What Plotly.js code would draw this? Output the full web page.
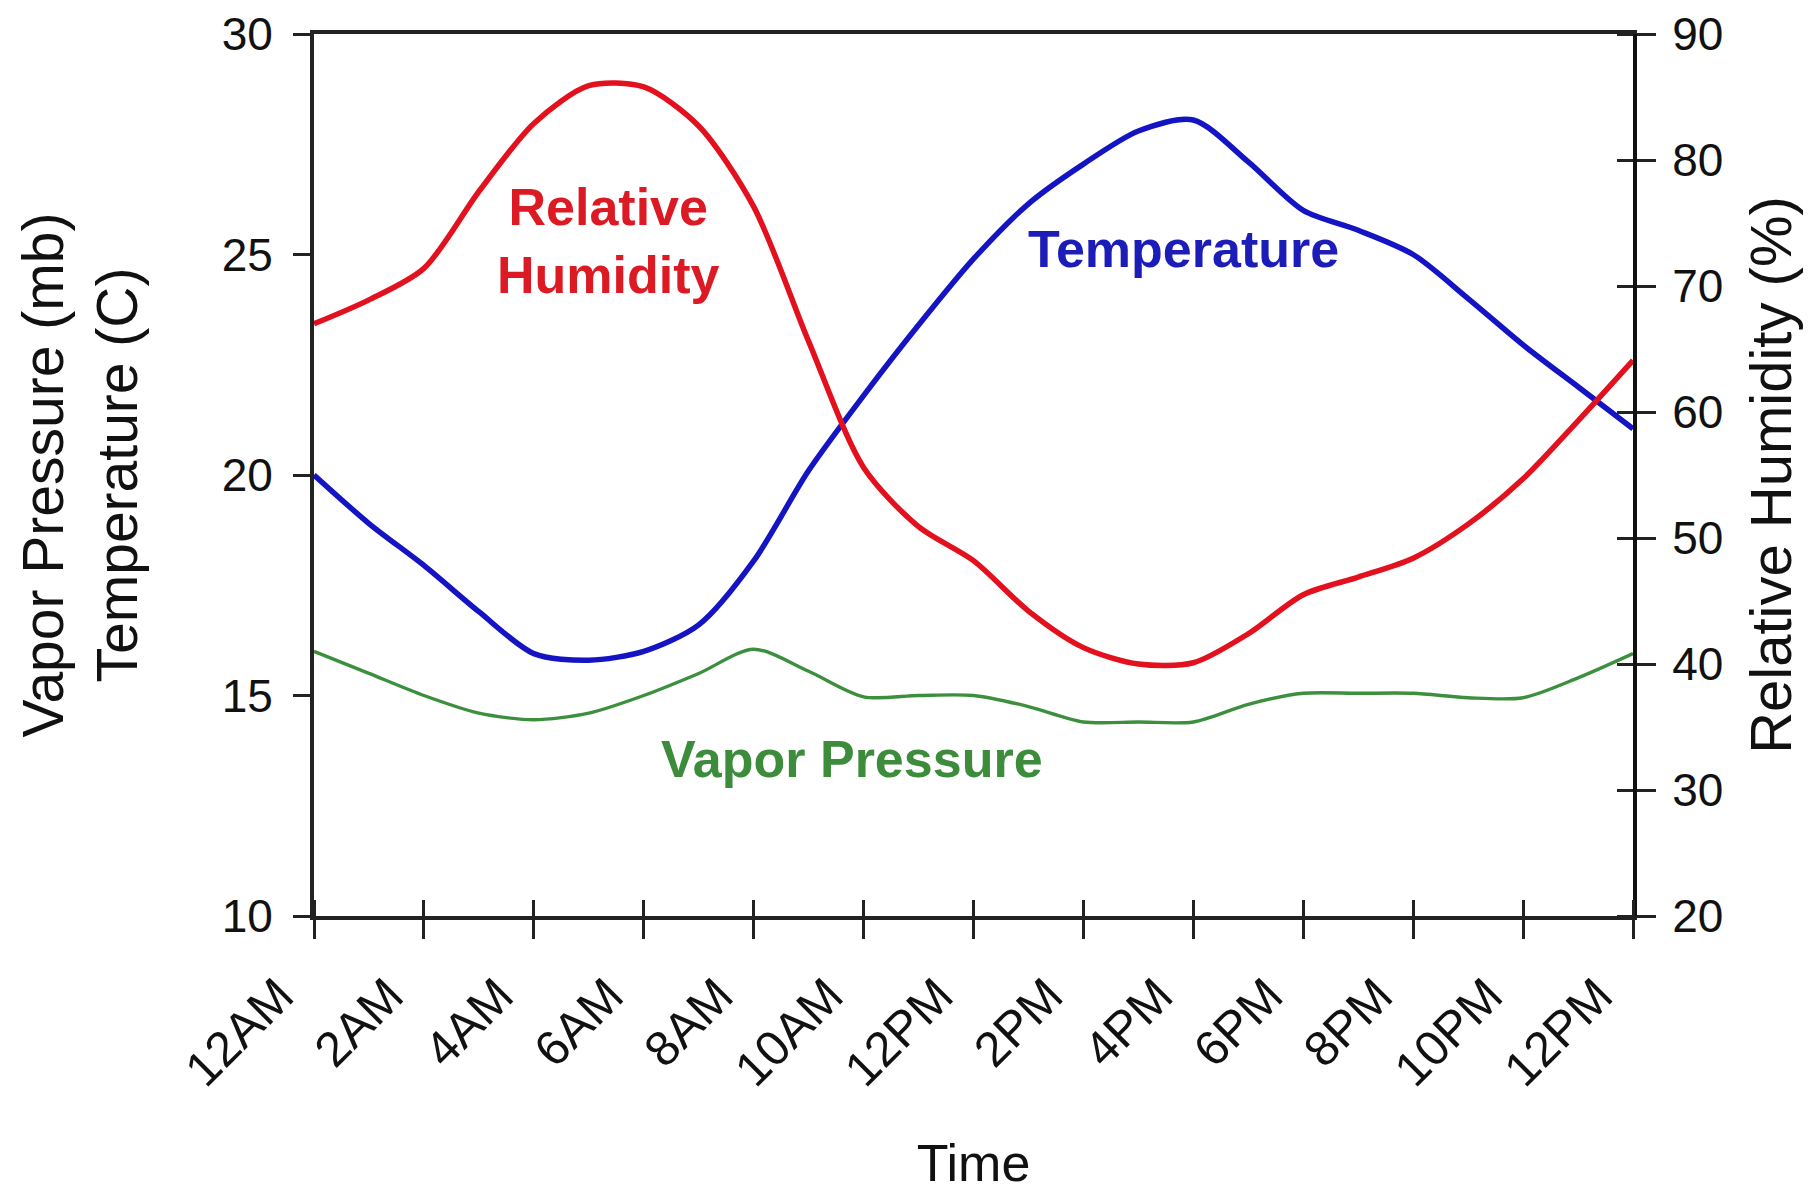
<!DOCTYPE html>
<html>
<head>
<meta charset="utf-8">
<script src="https://cdn.plot.ly/plotly-3.0.1.min.js"></script>
<style>
  html, body { margin: 0; padding: 0; background: #ffffff; }
  #chart { width: 1818px; height: 1192px; }
</style>
</head>
<body>
<div id="chart"></div>
<script>
// ---- data ----
const hours = [0, 1, 2, 3, 4, 5, 6, 7, 8, 9, 10, 11, 12, 13, 14, 15, 16, 17, 18, 19, 20, 21, 22, 23, 24];
const tickHours = [0, 2, 4, 6, 8, 10, 12, 14, 16, 18, 20, 22, 24];
const tickLabels = ["12AM", "2AM", "4AM", "6AM", "8AM", "10AM", "12PM", "2PM", "4PM", "6PM", "8PM", "10PM", "12PM"];
const leftTicks = [10, 15, 20, 25, 30];
const rightTicks = [20, 30, 40, 50, 60, 70, 80, 90];

const temperature = [20.0, 18.9, 17.95, 16.9, 15.95, 15.8, 16.0, 16.6, 18.05, 20.1, 21.8, 23.4, 24.9, 26.15, 27.05, 27.8, 28.05, 27.1, 26.0, 25.55, 25.0, 24.0, 22.95, 22.0, 21.05];
const vaporPressure = [16.0, 15.5, 15.0, 14.6, 14.45, 14.6, 15.0, 15.5, 16.05, 15.55, 14.97, 15.0, 15.0, 14.75, 14.4, 14.4, 14.4, 14.8, 15.05, 15.05, 15.05, 14.95, 14.95, 15.4, 15.95];
const relativeHumidity = [67.0, 68.9, 71.4, 77.5, 82.9, 85.9, 85.8, 82.7, 76.3, 65.6, 55.6, 50.9, 48.2, 44.2, 41.3, 40.0, 40.1, 42.4, 45.5, 46.9, 48.4, 51.1, 54.7, 59.3, 64.1];

const seriesNames = ["Temperature", "Vapor Pressure", "Relative Humidity"];

// ---- styling ----
const FONT = '"Liberation Sans", Arial, Helvetica, sans-serif';
const RED = '#e3101d';
const BLUE = '#1414c4';
const GREEN = '#3c8f3c';
const AXIS = '#222222';

// inner half of the crossing tick marks (drawn as minor ticks a hair off the major ones)
const EPS = 1e-6;
const innerX = tickHours.map(v => v + EPS);
const innerRight = rightTicks.map(v => v + EPS);

const traces = [
  { name: seriesNames[0], x: hours, y: temperature, xaxis: 'x', yaxis: 'y', mode: 'lines',
    line: { color: BLUE, width: 5.5, shape: 'spline', smoothing: 0.8 } },
  { name: seriesNames[1], x: hours, y: vaporPressure, xaxis: 'x', yaxis: 'y', mode: 'lines',
    line: { color: GREEN, width: 3.4, shape: 'spline', smoothing: 0.8 } },
  { name: seriesNames[2], x: hours, y: relativeHumidity, xaxis: 'x', yaxis: 'y2', mode: 'lines',
    line: { color: RED, width: 5.5, shape: 'spline', smoothing: 0.8 } }
];

const layout = {
  width: 1818, height: 1192,
  margin: { l: 314, r: 185, t: 34, b: 276 },
  paper_bgcolor: '#ffffff', plot_bgcolor: '#ffffff',
  showlegend: false,
  font: { family: FONT, color: '#111111', size: 46 },
  xaxis: {
    range: [0, 24], tickmode: 'array', tickvals: tickHours, ticktext: tickLabels,
    tickangle: -45, ticks: 'outside', ticklen: 19, tickwidth: 3, tickcolor: AXIS,
    ticklabelshift: -35, ticklabelstandoff: 8,
    minor: { tickmode: 'array', tickvals: innerX, ticks: 'inside', ticklen: 16, tickwidth: 3, tickcolor: AXIS, showgrid: false },
    showline: true, linewidth: 4, linecolor: AXIS, mirror: true,
    showgrid: false, zeroline: false,
    tickfont: { family: FONT, size: 49, color: '#111111' },
    title: { text: 'Time', standoff: 65, font: { family: FONT, size: 52, color: '#111111' } }
  },
  yaxis: {
    range: [10, 30], tickmode: 'array', tickvals: leftTicks,
    ticks: 'outside', ticklen: 17, tickwidth: 3, tickcolor: AXIS,
    ticklabelstandoff: 11,
    showline: true, linewidth: 4, linecolor: AXIS,
    showgrid: false, zeroline: false,
    tickfont: { family: FONT, size: 46, color: '#111111' },
    title: { text: 'Vapor Pressure (mb)<br>Temperature (C)', standoff: 67, font: { family: FONT, size: 57, color: '#111111' } }
  },
  yaxis2: {
    overlaying: 'y', side: 'right', anchor: 'x', range: [20, 90], tickmode: 'array', tickvals: rightTicks,
    ticks: 'outside', ticklen: 19, tickwidth: 3, tickcolor: AXIS,
    ticklabelstandoff: 7,
    minor: { tickmode: 'array', tickvals: innerRight, ticks: 'inside', ticklen: 16, tickwidth: 3, tickcolor: AXIS, showgrid: false },
    showline: true, linewidth: 4, linecolor: '#111111',
    showgrid: false, zeroline: false,
    tickfont: { family: FONT, size: 46, color: '#111111' },
    title: { text: 'Relative Humidity (%)', font: { family: FONT, size: 58, color: '#111111' } }
  },
  annotations: [
    { text: 'Relative<br>Humidity', x: 5.35, y: 25.3, xref: 'x', yref: 'y', showarrow: false,
      font: { family: FONT, size: 52, color: '#dc1a24', weight: 'bold' }, align: 'center' },
    { text: 'Temperature', x: 15.83, y: 25.13, xref: 'x', yref: 'y', showarrow: false,
      font: { family: FONT, size: 52, color: '#1c1cb8', weight: 'bold' } },
    { text: 'Vapor Pressure', x: 9.79, y: 13.56, xref: 'x', yref: 'y', showarrow: false,
      font: { family: FONT, size: 52, color: '#3c8c3c', weight: 'bold' } }
  ]
};

Plotly.newPlot('chart', traces, layout, { staticPlot: true, displayModeBar: false });
</script>
</body>
</html>
